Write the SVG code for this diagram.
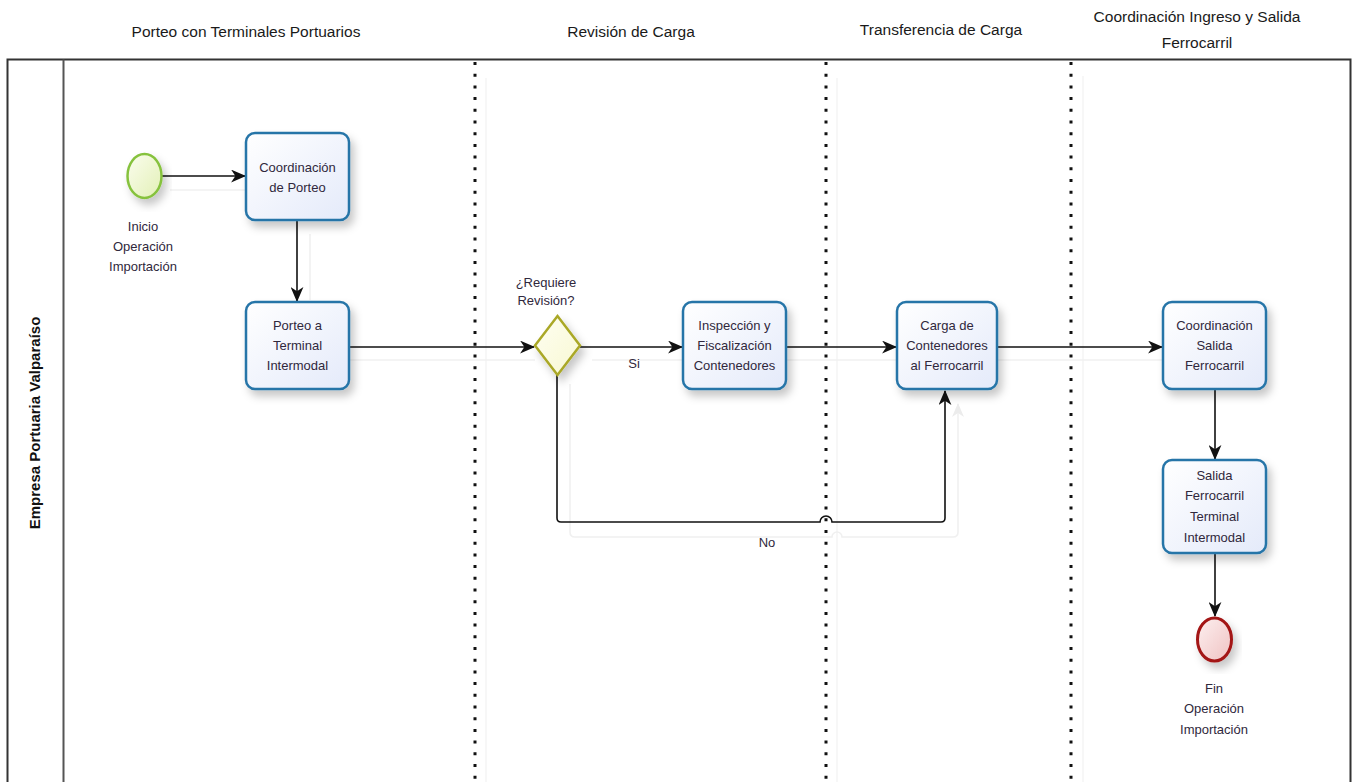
<svg xmlns="http://www.w3.org/2000/svg" width="1352" height="782" viewBox="0 0 1352 782">
  <style>
    .hdr { font-family: "Liberation Sans", Arial, sans-serif; font-size: 15.5px; fill: #1a1a1a; text-anchor: middle; }
    .lbl { font-family: "Liberation Sans", Arial, sans-serif; font-size: 13px; fill: #30283c; text-anchor: middle; }
    .pool { font-family: "Liberation Sans", Arial, sans-serif; font-size: 15px; font-weight: bold; fill: #111; text-anchor: middle; }
    .task { fill: url(#taskFill); stroke: #2675a8; stroke-width: 2.5; filter: url(#shadow); }
    .flow { fill: none; stroke: #111; stroke-width: 1.6; }
    .ghost { fill: none; stroke: #f0f0f0; stroke-width: 1.6; }
    .sep { stroke: #111; stroke-width: 3; stroke-dasharray: 3 8.7; }
    .sepShadow { stroke: #f4f4f4; stroke-width: 1.5; }
  </style>
  <defs>
    <linearGradient id="taskFill" x1="0" y1="0" x2="1" y2="1">
      <stop offset="0" stop-color="#ffffff"/>
      <stop offset="1" stop-color="#e4eafa"/>
    </linearGradient>
    <linearGradient id="startFill" x1="0" y1="0" x2="1" y2="1">
      <stop offset="0" stop-color="#fbfdee"/>
      <stop offset="1" stop-color="#e2f0b6"/>
    </linearGradient>
    <linearGradient id="endFill" x1="0" y1="0" x2="1" y2="1">
      <stop offset="0" stop-color="#fdf0f0"/>
      <stop offset="1" stop-color="#efc2c2"/>
    </linearGradient>
    <linearGradient id="gateFill" x1="0" y1="0" x2="1" y2="1">
      <stop offset="0" stop-color="#fefef2"/>
      <stop offset="1" stop-color="#f8f8d2"/>
    </linearGradient>
    <filter id="shadow" x="-20%" y="-20%" width="150%" height="150%">
      <feDropShadow dx="4" dy="6" stdDeviation="4" flood-color="#000" flood-opacity="0.22"/>
    </filter>
    <marker id="arr" viewBox="0 0 14 12" refX="13" refY="6" markerWidth="15" markerHeight="13" markerUnits="userSpaceOnUse" orient="auto">
      <path d="M0,0 L14,6 L0,12 L4,6 z" fill="#111"/>
    </marker>
    <marker id="arrGhost" viewBox="0 0 14 12" refX="13" refY="6" markerWidth="14" markerHeight="12" markerUnits="userSpaceOnUse" orient="auto">
      <path d="M0,0 L14,6 L0,12 L4,6 z" fill="#ececec"/>
    </marker>
  </defs>

  <rect width="1352" height="782" fill="#ffffff"/>

  <!-- lane headers -->
  <g id="headers">
    <text class="hdr" x="246" y="37">Porteo con Terminales Portuarios</text>
    <text class="hdr" x="631" y="37">Revisión de Carga</text>
    <text class="hdr" x="941" y="35">Transferencia de Carga</text>
    <text class="hdr" x="1197" y="22">Coordinación Ingreso y Salida</text>
    <text class="hdr" x="1197" y="48">Ferrocarril</text>
  </g>

  <!-- pool frame -->
  <g id="pool">
    <path d="M7.5,782 V59.5 H1350.5 V782" fill="none" stroke="#333" stroke-width="2"/>
    <line x1="63.5" y1="59.5" x2="63.5" y2="782" stroke="#555" stroke-width="2"/>
    <text class="pool" transform="translate(40,423) rotate(-90)">Empresa Portuaria Valparaíso</text>
  </g>

  <!-- lane separators -->
  <g id="separators">
    <line class="sepShadow" x1="486" y1="78" x2="486" y2="782"/>
    <line class="sepShadow" x1="837" y1="78" x2="837" y2="782"/>
    <line class="sepShadow" x1="1083" y1="76" x2="1083" y2="782"/>
    <line class="sep" x1="475" y1="62" x2="475" y2="782"/>
    <line class="sep" x1="826" y1="62" x2="826" y2="782"/>
    <line class="sep" x1="1071" y1="62" x2="1071" y2="782"/>
  </g>

  <!-- sequence flows -->
  <g id="connectors">
    <!-- faint offset copies -->
    <g id="connector-shadows">
      <line class="ghost" x1="170" y1="190" x2="245" y2="190"/>
      <line class="ghost" x1="310" y1="234" x2="310" y2="300"/>
      <line class="ghost" x1="350" y1="360" x2="535" y2="360"/>
      <line class="ghost" x1="592" y1="360" x2="683" y2="360"/>
      <line class="ghost" x1="787" y1="360" x2="897" y2="360"/>
      <line class="ghost" x1="998" y1="360" x2="1163" y2="360"/>
      <path class="ghost" d="M570,384 V532 Q570,537 575,537 H832 A5,5 0 0 1 842,537 H953 Q958,537 958,532 V404" marker-end="url(#arrGhost)"/>
    </g>
    <line class="flow" x1="162" y1="176" x2="245" y2="176" marker-end="url(#arr)"/>
    <line class="flow" x1="297" y1="221" x2="297" y2="301" marker-end="url(#arr)"/>
    <line class="flow" x1="349" y1="347" x2="534" y2="347" marker-end="url(#arr)"/>
    <line class="flow" x1="580" y1="347" x2="682" y2="347" marker-end="url(#arr)"/>
    <line class="flow" x1="786" y1="347" x2="896" y2="347" marker-end="url(#arr)"/>
    <line class="flow" x1="997" y1="347" x2="1162" y2="347" marker-end="url(#arr)"/>
    <line class="flow" x1="1215" y1="390" x2="1215" y2="459" marker-end="url(#arr)"/>
    <line class="flow" x1="1215" y1="554" x2="1215" y2="616" marker-end="url(#arr)"/>
    <path class="flow" d="M557,374 V518 Q557,522 561,522 H820 A6,6 0 0 1 832,522 H941 Q945,522 945,518 V391" marker-end="url(#arr)"/>
    <text class="lbl" x="634" y="368">Si</text>
    <text class="lbl" x="767" y="547">No</text>
  </g>

  <!-- start event -->
  <g id="start">
    <ellipse cx="144.5" cy="176" rx="17" ry="22" fill="url(#startFill)" stroke="#86c23e" stroke-width="2.5" filter="url(#shadow)"/>
    <text class="lbl" x="143" y="231">Inicio</text>
    <text class="lbl" x="143" y="251">Operación</text>
    <text class="lbl" x="143" y="271">Importación</text>
  </g>

  <g id="coordinacion-porteo">
    <rect class="task" x="246" y="133" width="103" height="87" rx="9"/>
    <text class="lbl" x="297.5" y="172">Coordinación</text>
    <text class="lbl" x="297.5" y="192">de Porteo</text>
  </g>

  <g id="porteo-terminal">
    <rect class="task" x="246" y="302" width="103" height="87" rx="9"/>
    <text class="lbl" x="297.5" y="330">Porteo a</text>
    <text class="lbl" x="297.5" y="350">Terminal</text>
    <text class="lbl" x="297.5" y="370">Intermodal</text>
  </g>

  <g id="gateway">
    <path d="M557.5,316 L580,345.5 L557.5,375 L535,345.5 Z" fill="url(#gateFill)" stroke="#aaa828" stroke-width="2.5" filter="url(#shadow)"/>
    <text class="lbl" x="546" y="287">¿Requiere</text>
    <text class="lbl" x="546" y="305">Revisión?</text>
  </g>

  <g id="inspeccion">
    <rect class="task" x="683" y="302" width="103" height="87" rx="9"/>
    <text class="lbl" x="734.5" y="330">Inspección y</text>
    <text class="lbl" x="734.5" y="350">Fiscalización</text>
    <text class="lbl" x="734.5" y="370">Contenedores</text>
  </g>

  <g id="carga">
    <rect class="task" x="897" y="302" width="100" height="87" rx="9"/>
    <text class="lbl" x="947" y="330">Carga de</text>
    <text class="lbl" x="947" y="350">Contenedores</text>
    <text class="lbl" x="947" y="370">al Ferrocarril</text>
  </g>

  <g id="coordinacion-salida">
    <rect class="task" x="1163" y="302" width="103" height="87" rx="9"/>
    <text class="lbl" x="1214.5" y="330">Coordinación</text>
    <text class="lbl" x="1214.5" y="350">Salida</text>
    <text class="lbl" x="1214.5" y="370">Ferrocarril</text>
  </g>

  <g id="salida-ferrocarril">
    <rect class="task" x="1163" y="460" width="103" height="93" rx="9"/>
    <text class="lbl" x="1214.5" y="480">Salida</text>
    <text class="lbl" x="1214.5" y="500">Ferrocarril</text>
    <text class="lbl" x="1214.5" y="521">Terminal</text>
    <text class="lbl" x="1214.5" y="542">Intermodal</text>
  </g>

  <!-- end event -->
  <g id="end">
    <ellipse cx="1214.5" cy="639.5" rx="17" ry="21.5" fill="url(#endFill)" stroke="#a31414" stroke-width="3" filter="url(#shadow)"/>
    <text class="lbl" x="1214" y="693">Fin</text>
    <text class="lbl" x="1214" y="713">Operación</text>
    <text class="lbl" x="1214" y="734">Importación</text>
  </g>
</svg>
